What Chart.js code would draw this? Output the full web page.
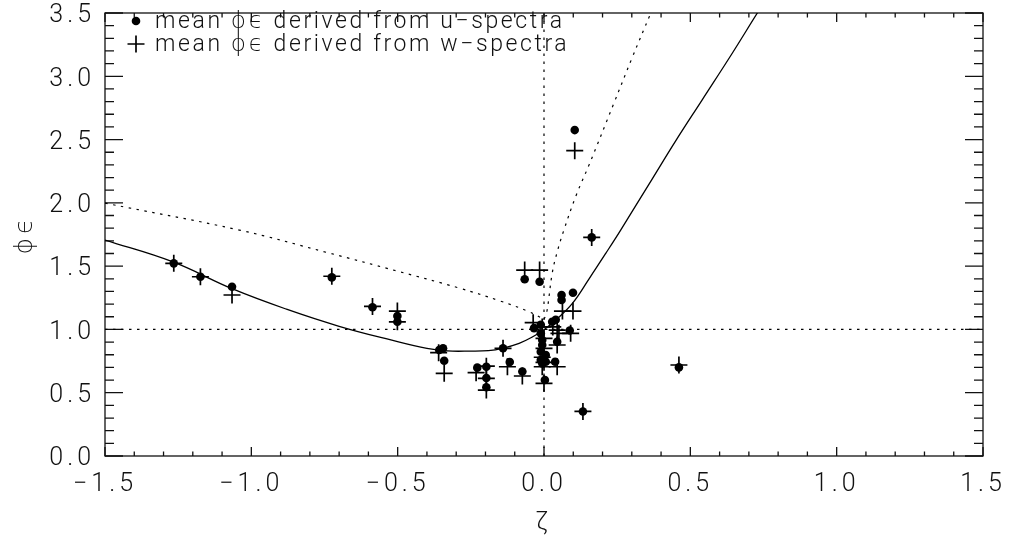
<!DOCTYPE html>
<html>
<head>
<meta charset="utf-8">
<script src="https://cdn.jsdelivr.net/npm/chart.js@4.4.1/dist/chart.umd.min.js"></script>
<style>
  html, body { margin: 0; padding: 0; background: #fff; }
  #wrap { width: 1009px; height: 542px; }
</style>
</head>
<body>
<div id="wrap"><canvas id="c"></canvas></div>
<script>
// Mean dissipation function ϕϵ against stability ζ, as [ζ, ϕϵ] pairs.
const uSpectra = [
  [-1.265, 1.522], [-1.174, 1.416], [-1.066, 1.337], [-0.725, 1.411], [-0.586, 1.175],
  [-0.501, 1.106], [-0.501, 1.061], [-0.358, 0.837], [-0.345, 0.851], [-0.341, 0.753],
  [-0.228, 0.698], [-0.197, 0.705], [-0.197, 0.616], [-0.197, 0.543], [-0.140, 0.851],
  [-0.117, 0.742], [-0.074, 0.668], [-0.066, 1.396], [-0.015, 1.377], [-0.034, 1.010],
  [-0.011, 1.037], [-0.011, 0.969], [-0.006, 0.916], [-0.006, 0.877], [-0.011, 0.824],
  [0.006, 0.798], [-0.011, 0.758], [-0.006, 0.732], [0.006, 0.745], [0.003, 0.600],
  [0.028, 1.061], [0.040, 1.076], [0.045, 0.903], [0.038, 0.745], [0.060, 1.272],
  [0.060, 1.232], [0.099, 1.290], [0.088, 0.992], [0.105, 2.575], [0.163, 1.727],
  [0.133, 0.352], [0.461, 0.700]
];
const wSpectra = [
  [-1.265, 1.522], [-1.174, 1.416], [-1.066, 1.272], [-0.725, 1.420], [-0.586, 1.182],
  [-0.501, 1.145], [-0.501, 1.060], [-0.360, 0.816], [-0.341, 0.653], [-0.232, 0.658],
  [-0.197, 0.710], [-0.197, 0.614], [-0.197, 0.521], [-0.140, 0.851], [-0.125, 0.705],
  [-0.074, 0.632], [-0.066, 1.469], [-0.015, 1.469], [-0.037, 1.053], [-0.006, 1.020],
  [0.000, 0.930], [0.000, 0.850], [-0.006, 0.780], [0.000, 0.740], [-0.006, 0.705],
  [0.000, 0.574], [0.030, 1.020], [0.045, 0.995], [0.051, 0.969], [0.045, 0.877],
  [0.045, 0.705], [0.063, 1.145], [0.099, 1.145], [0.091, 0.969], [0.105, 2.412],
  [0.163, 1.727], [0.133, 0.352], [0.461, 0.719]
];
// Fitted dissipation function (solid)
const fitCurve = [
  [-1.500, 1.706], [-1.270, 1.535], [-1.064, 1.320], [-0.880, 1.160], [-0.700, 1.025],
  [-0.520, 0.915], [-0.400, 0.850], [-0.330, 0.830], [-0.250, 0.829], [-0.190, 0.833],
  [-0.142, 0.851], [-0.085, 0.890], [-0.040, 0.940], [0.000, 0.998], [0.040, 1.074],
  [0.097, 1.206], [0.154, 1.400], [0.211, 1.601], [0.262, 1.785], [0.370, 2.190],
  [0.450, 2.490], [0.540, 2.812], [0.640, 3.170], [0.729, 3.500], [0.760, 3.610]
];
// Reference formulations (dotted), unstable and stable branches
const unstableRef = [
  [-1.500, 1.998], [-1.041, 1.785], [-0.745, 1.610], [-0.500, 1.460], [-0.290, 1.327],
  [-0.150, 1.225], [-0.051, 1.140], [0.000, 1.080]
];
const stableRef = [
  [0.000, 1.080], [0.009, 1.130], [0.028, 1.443], [0.044, 1.603], [0.068, 1.785],
  [0.110, 2.060], [0.154, 2.300], [0.239, 2.788], [0.300, 3.140], [0.365, 3.500],
  [0.380, 3.580]
];
const unityLine = [[-1.5, 1.0], [1.5, 1.0]];
const neutralLine = [[0.0, 0.0], [0.0, 3.5]];

const xTicks = [-1.5, -1.0, -0.5, 0.0, 0.5, 1.0, 1.5];
const yTicks = [0.0, 0.5, 1.0, 1.5, 2.0, 2.5, 3.0, 3.5];
const legendLabels = ['mean ϕϵ derived from u−spectra', 'mean ϕϵ derived from w−spectra'];

const INK = '#111';
const FONT = "Roboto, 'DejaVu Sans', sans-serif";
const toXY = arr => arr.map(([x, y]) => ({ x, y }));
const fmt = v => (v < 0 ? '−' : '') + Math.abs(v).toFixed(1);

// Box frame with inward major/minor ticks on all four sides
const framePlugin = {
  id: 'frame',
  beforeDatasetsDraw(chart) {
    const { ctx, chartArea: a, scales: { x, y } } = chart;
    ctx.save();
    ctx.strokeStyle = INK;
    ctx.lineWidth = 1.3;
    ctx.strokeRect(a.left, a.top, a.right - a.left, a.bottom - a.top);
    ctx.beginPath();
    for (let i = 0; i < xTicks.length; i++) {
      for (let k = 0; k < 5; k++) {
        if (i === xTicks.length - 1 && k > 0) break;
        const v = xTicks[i] + k * 0.1;
        const px = x.getPixelForValue(v);
        const len = k === 0 ? 9 : 4.5;
        ctx.moveTo(px, a.bottom); ctx.lineTo(px, a.bottom - len);
        ctx.moveTo(px, a.top); ctx.lineTo(px, a.top + len);
      }
    }
    for (let i = 0; i < yTicks.length; i++) {
      for (let k = 0; k < 5; k++) {
        if (i === yTicks.length - 1 && k > 0) break;
        const v = yTicks[i] + k * 0.1;
        const py = y.getPixelForValue(v);
        const len = k === 0 ? 18 : 9;
        ctx.moveTo(a.left, py); ctx.lineTo(a.left + len, py);
        ctx.moveTo(a.right, py); ctx.lineTo(a.right - len, py);
      }
    }
    ctx.stroke();
    ctx.restore();
  }
};

// Key in the upper-left corner of the plot
const keyPlugin = {
  id: 'key',
  afterDatasetsDraw(chart) {
    const { ctx, chartArea: a } = chart;
    const rows = [chart.data.datasets[0], chart.data.datasets[1]];
    ctx.save();
    ctx.font = '300 23px ' + FONT;
    ctx.letterSpacing = '2.6px';
    ctx.textBaseline = 'middle';
    rows.forEach((ds, i) => {
      const cy = a.top + 8 + i * 23;
      const cx = a.left + 31;
      ctx.fillStyle = '#000';
      ctx.strokeStyle = '#000';
      ctx.lineWidth = ds.borderWidth;
      Chart.helpers.drawPoint(ctx, {
        pointStyle: ds.pointStyle, radius: ds.pointRadius, borderWidth: ds.borderWidth, rotation: 0
      }, cx, cy);
      ctx.fillStyle = INK;
      ctx.fillText(ds.label, a.left + 50, cy + 1);
    });
    ctx.restore();
  }
};

const spacing = {
  id: 'spacing',
  beforeUpdate(chart) { chart.ctx.letterSpacing = '4px'; },
  beforeDraw(chart) { chart.ctx.letterSpacing = '4px'; }
};

new Chart(document.getElementById('c'), {
  type: 'scatter',
  data: {
    datasets: [
      {
        label: legendLabels[0], data: toXY(uSpectra),
        pointStyle: 'circle', pointRadius: 4.3, borderWidth: 0,
        backgroundColor: '#000', borderColor: '#000', order: 1
      },
      {
        label: legendLabels[1], data: toXY(wSpectra),
        pointStyle: 'cross', pointRadius: 8.5, borderWidth: 1.7,
        backgroundColor: '#000', borderColor: '#000', order: 0
      },
      {
        type: 'line', label: 'fit', data: toXY(fitCurve),
        borderColor: '#000', borderWidth: 1.3, pointRadius: 0,
        tension: 0.4, fill: false, order: 2
      },
      {
        type: 'line', label: 'unstable', data: toXY(unstableRef),
        borderColor: '#000', borderWidth: 1.2, borderDash: [2.5, 5.5], pointRadius: 0,
        tension: 0.4, fill: false, order: 3
      },
      {
        type: 'line', label: 'stable', data: toXY(stableRef),
        borderColor: '#000', borderWidth: 1.2, borderDash: [2.5, 5.5], pointRadius: 0,
        tension: 0.4, fill: false, order: 3
      },
      {
        type: 'line', label: 'unity', data: toXY(unityLine),
        borderColor: '#000', borderWidth: 1.2, borderDash: [2.5, 5.5], pointRadius: 0,
        fill: false, order: 4
      },
      {
        type: 'line', label: 'neutral', data: toXY(neutralLine),
        borderColor: '#000', borderWidth: 1.2, borderDash: [2.5, 5.5], pointRadius: 0,
        fill: false, order: 4
      }
    ]
  },
  options: {
    responsive: true,
    maintainAspectRatio: false,
    animation: false,
    events: [],
    layout: { padding: { top: 13, right: 26, left: 0, bottom: 0 } },
    plugins: { legend: { display: false }, tooltip: { enabled: false } },
    scales: {
      x: {
        type: 'linear', min: -1.5, max: 1.5,
        afterBuildTicks: s => { s.ticks = xTicks.map(v => ({ value: v })); },
        afterFit: s => { s.height = 86; s.paddingLeft = 0; s.paddingRight = 0; },
        grid: { display: false },
        border: { display: false },
        ticks: {
          callback: fmt, color: INK, padding: 6, maxRotation: 0, autoSkip: false,
          font: { family: FONT, size: 25, weight: '300' }
        },
        title: {
          display: true, text: 'ζ', color: INK, padding: { top: 0, bottom: 3 },
          font: { family: FONT, size: 25, weight: '300' }
        }
      },
      y: {
        type: 'linear', min: 0, max: 3.5,
        afterBuildTicks: s => { s.ticks = yTicks.map(v => ({ value: v })); },
        afterFit: s => { s.width = 105; s.paddingTop = 0; s.paddingBottom = 0; },
        grid: { display: false },
        border: { display: false },
        ticks: {
          callback: fmt, color: INK, padding: 2, autoSkip: false, labelOffset: 3,
          font: { family: FONT, size: 25, weight: '300' }
        },
        title: {
          display: true, text: 'ϕϵ', color: INK, padding: { top: 11, bottom: 0 },
          font: { family: FONT, size: 25, weight: '300' }
        }
      }
    }
  },
  plugins: [spacing, framePlugin, keyPlugin]
});
</script>
</body>
</html>
